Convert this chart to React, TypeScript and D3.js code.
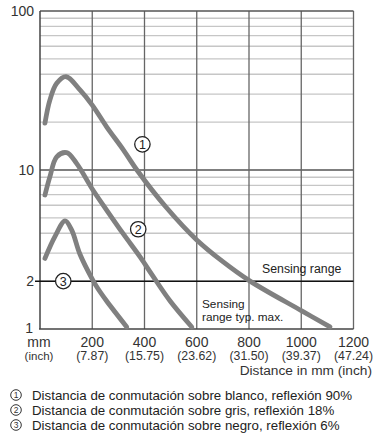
import * as d3 from 'd3';

const W = 374;
const H = 439;

// curves: [distance mm, switching distance value]
const curveWhite: [number, number][] = [
  [19, 19.7], [38, 27.6], [64, 35.1], [100, 38.6], [153, 31.9], [200, 25.6], [255, 18.7],
  [319, 13.4], [371, 10], [482, 5.85], [600, 3.63], [700, 2.65], [804, 2.0], [1002, 1.3],
  [1110, 1.03],
];
const curveGrey: [number, number][] = [
  [19, 6.96], [38, 9.08], [64, 12.1], [102, 12.85], [140, 11.0], [200, 7.6], [255, 5.6],
  [319, 3.96], [383, 2.84], [429, 2.19], [498, 1.5], [581, 1.03],
];
const curveBlack: [number, number][] = [
  [19, 2.78], [57, 3.81], [96, 4.78], [121, 4.2], [153, 2.95], [200, 2.06], [222, 1.79],
  [255, 1.5], [332, 1.03],
];
const curves = [curveWhite, curveGrey, curveBlack];

// circled markers placed on the chart [mm, value]
const markerPos: [number, number][] = [[392, 14.5], [376, 4.24], [89, 2]];

const xTicks = [200, 400, 600, 800, 1000, 1200];
const xTickInch = ['(7.87)', '(15.75)', '(23.62)', '(31.50)', '(39.37)', '(47.24)'];
const yLabels = [1, 2, 10, 100];
const yMinor = [2, 3, 4, 5, 6, 7, 8, 9, 20, 30, 40, 50, 60, 70, 80, 90];
const sensingRange = 2;

const legendItems = [
  'Distancia de conmutación sobre blanco, reflexión 90%',
  'Distancia de conmutación sobre gris, reflexión 18%',
  'Distancia de conmutación sobre negro, reflexión 6%',
];

const FONT = '"Liberation Sans", Arial, sans-serif';

export default function App() {
  const x = d3.scaleLinear().domain([0, 1200]).range([40, 353.5]);
  const y = d3.scaleLog().domain([1, 100]).range([329, 11]);

  const line = d3
    .line<[number, number]>()
    .x((d) => x(d[0]))
    .y((d) => y(d[1]))
    .curve(d3.curveCatmullRom.alpha(0.5));

  const [x0, x1] = x.range();
  const [yb, yt] = y.range();

  return (
    <svg width={W} height={H} style={{ position: 'absolute', left: 0, top: 0 }} fontFamily={FONT}>
      <rect width={W} height={H} fill="#fff" />

      {/* minor horizontal grid */}
      {yMinor.map((v) => (
        <line key={'h' + v} x1={x0} x2={x1} y1={y(v)} y2={y(v)} stroke="#c6c6c6" strokeWidth={1.4} />
      ))}
      <line x1={x0} x2={x1} y1={y(10)} y2={y(10)} stroke="#555" strokeWidth={1.3} />

      {/* vertical grid */}
      {xTicks.map((t) => (
        <line key={'v' + t} x1={x(t)} x2={x(t)} y1={yt} y2={yb} stroke="#666" strokeWidth={1.3} />
      ))}

      {/* frame */}
      <line x1={x0} x2={x1} y1={yt} y2={yt} stroke="#555" strokeWidth={1.3} />
      <line x1={x0} x2={x0} y1={yt} y2={yb} stroke="#444" strokeWidth={1.5} />
      <line x1={x0 - 1} x2={x1} y1={yb} y2={yb} stroke="#444" strokeWidth={1.6} />

      {/* sensing range line */}
      <line x1={35} x2={x1} y1={y(sensingRange)} y2={y(sensingRange)} stroke="#111" strokeWidth={1.5} />

      {/* curves */}
      {curves.map((c, i) => (
        <path key={'c' + i} d={line(c) || ''} fill="none" stroke="#808080" strokeWidth={4.8} strokeLinecap="round" strokeLinejoin="round" />
      ))}

      {/* circled markers */}
      {markerPos.map((p, i) => (
        <g key={'m' + i} transform={`translate(${x(p[0])},${y(p[1])})`}>
          <circle r={7.7} fill="#fff" stroke="#222" strokeWidth={1.3} />
          <text y={4.5} textAnchor="middle" fontSize={12.5} fill="#222">{i + 1}</text>
        </g>
      ))}

      {/* annotations */}
      <text x={262} y={272.5} fontSize={12.3} fill="#222">Sensing range</text>
      <text x={202} y={308} fontSize={11.8} fill="#222">Sensing</text>
      <text x={202} y={321} fontSize={11.8} fill="#222">range typ. max.</text>

      {/* y labels */}
      {yLabels.map((v) => (
        <text key={'yl' + v} x={v === 1 ? 33 : 34} y={v === 1 ? 333 : y(v) + 5} textAnchor="end" fontSize={14} fill="#333">{v}</text>
      ))}

      {/* x labels */}
      <text x={39} y={347} textAnchor="middle" fontSize={14} fill="#333">mm</text>
      <text x={39} y={359.5} textAnchor="middle" fontSize={11.5} fill="#333">(inch)</text>
      {xTicks.map((t, i) => (
        <g key={'xl' + t}>
          <text x={x(t)} y={347} textAnchor="middle" fontSize={14} fill="#333">{t}</text>
          <text x={x(t)} y={359.5} textAnchor="middle" fontSize={12.3} fill="#333">{xTickInch[i]}</text>
        </g>
      ))}
      <text x={372} y={374.5} textAnchor="end" fontSize={13.7} fill="#333">Distance in mm (inch)</text>

      {/* legend */}
      {legendItems.map((s, i) => (
        <g key={'lg' + i} transform={`translate(0,${395 + i * 15})`}>
          <circle cx={16} cy={0} r={5.3} fill="#fff" stroke="#333" strokeWidth={1} />
          <text x={16} y={3} textAnchor="middle" fontSize={8.5} fill="#333">{i + 1}</text>
          <text x={32} y={4.5} fontSize={13.3} fill="#222">{s}</text>
        </g>
      ))}
    </svg>
  );
}
